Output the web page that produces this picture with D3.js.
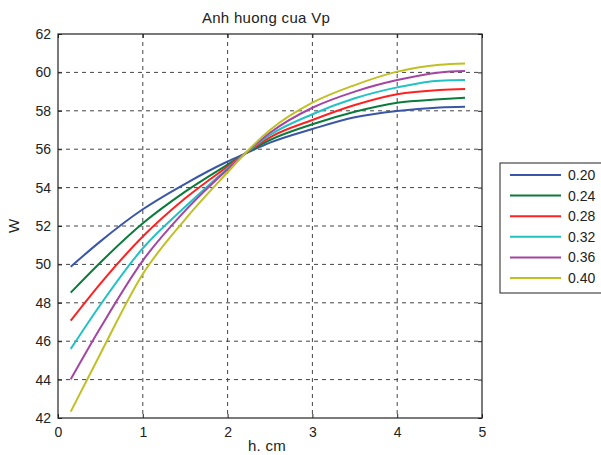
<!DOCTYPE html>
<html>
<head>
<meta charset="utf-8">
<script src="https://cdn.jsdelivr.net/npm/d3@7"></script>
<style>
  body { margin: 0; background: #fff; }
  text { font-family: "Liberation Sans", Arial, sans-serif; fill: #222; }
</style>
</head>
<body>
<div id="chart"></div>
<script>
// h values (cm) where the curves were read
const hVals = [0.15, 0.5, 1, 1.5, 2, 2.2, 2.5, 3, 3.5, 4, 4.5, 4.8];
// one series per Vp
const seriesNames = ["0.20", "0.24", "0.28", "0.32", "0.36", "0.40"];
const w020 = [49.88, 51.2, 52.87, 54.2, 55.36, 55.75, 56.34, 57.05, 57.66, 57.99, 58.17, 58.21];
const w024 = [48.53, 50.1, 52.14, 53.79, 55.2, 55.75, 56.48, 57.3, 57.95, 58.42, 58.6, 58.68];
const w028 = [47.07, 49.0, 51.45, 53.44, 55.1, 55.75, 56.62, 57.52, 58.3, 58.86, 59.08, 59.13];
const w032 = [45.6, 47.9, 50.84, 53.0, 55.0, 55.75, 56.74, 57.82, 58.65, 59.22, 59.57, 59.6];
const w036 = [44.02, 46.7, 50.2, 52.8, 54.95, 55.75, 56.86, 58.16, 59.0, 59.6, 60.0, 60.07];
const w040 = [42.33, 45.35, 49.5, 52.35, 54.8, 55.75, 57.0, 58.42, 59.34, 60.04, 60.4, 60.47];
const xTicks = [0, 1, 2, 3, 4, 5];
const yTicks = [42, 44, 46, 48, 50, 52, 54, 56, 58, 60, 62];
const colors = ["#3a56a6", "#0b7b3b", "#ff2121", "#22c2c4", "#a445a6", "#c0c025"];

const allSeries = [w020, w024, w028, w032, w036, w040];

const width = 601, height = 455;
const m = {t: 34, r: 119, b: 37, l: 58};
const w = width - m.l - m.r;
const h = height - m.t - m.b;

const svg = d3.select("#chart").append("svg")
    .attr("width", width)
    .attr("height", height);

const g = svg.append("g")
    .attr("transform", "translate(" + m.l + "," + m.t + ")");

const x = d3.scaleLinear().domain([0, 5]).range([0, w]);
const y = d3.scaleLinear().domain([42, 62]).range([h, 0]);

// grid lines
g.append("g").selectAll("line").data(xTicks.slice(1, -1)).enter()
    .append("line")
    .attr("x1", d => x(d)).attr("x2", d => x(d))
    .attr("y1", 0).attr("y2", h)
    .attr("stroke", "#444").attr("stroke-dasharray", "4,4");
g.append("g").selectAll("line").data(yTicks.slice(1, -1)).enter()
    .append("line")
    .attr("y1", d => y(d)).attr("y2", d => y(d))
    .attr("x1", 0).attr("x2", w)
    .attr("stroke", "#444").attr("stroke-dasharray", "4,4");

// axes, ticks inside like matlab
g.append("g").attr("transform", "translate(0," + h + ")")
    .call(d3.axisBottom(x).tickValues(xTicks).tickFormat(d3.format("d"))
        .tickSizeInner(-4).tickSizeOuter(0).tickPadding(9));
g.append("g")
    .call(d3.axisLeft(y).tickValues(yTicks).tickFormat(d3.format("d"))
        .tickSizeInner(-4).tickSizeOuter(0).tickPadding(7));
g.append("g").call(d3.axisTop(x).tickValues(xTicks).tickSizeInner(-4).tickSizeOuter(0).tickFormat(""));
g.append("g").attr("transform", "translate(" + w + ",0)")
    .call(d3.axisRight(y).tickValues(yTicks).tickSizeInner(-4).tickSizeOuter(0).tickFormat(""));
g.selectAll(".domain").remove();
g.selectAll(".tick line").attr("stroke", "#222");
g.selectAll(".tick text").style("font-size", "14px").attr("fill", "#222");

g.append("rect").attr("width", w).attr("height", h)
    .attr("fill", "none").attr("stroke", "#222").attr("stroke-width", 1.2);

// curves
const line = d3.line()
    .x((d, i) => x(hVals[i]))
    .y(d => y(d))
    .curve(d3.curveMonotoneX);

g.selectAll(".curve").data(allSeries).enter()
    .append("path")
    .attr("class", "curve")
    .attr("d", line)
    .attr("fill", "none")
    .attr("stroke", (d, i) => colors[i])
    .attr("stroke-width", 2);

// labels
svg.append("text").attr("x", m.l + w / 2 - 4).attr("y", 23)
    .attr("text-anchor", "middle").style("font-size", "15px")
    .style("letter-spacing", "0.3px")
    .text("Anh huong cua Vp");
svg.append("text").attr("x", m.l + w / 2 - 3).attr("y", 451)
    .attr("text-anchor", "middle").style("font-size", "15px")
    .style("letter-spacing", "0.3px")
    .text("h. cm");
svg.append("text").attr("transform", "translate(19," + (m.t + h / 2) + ") rotate(-90)")
    .attr("text-anchor", "middle").style("font-size", "15px")
    .text("W");

// legend
const lg = svg.append("g").attr("transform", "translate(500,163)");
lg.append("rect").attr("width", 103).attr("height", 130)
    .attr("fill", "#fff").attr("stroke", "#222");
const items = lg.selectAll(".item").data(seriesNames).enter()
    .append("g").attr("class", "item")
    .attr("transform", (d, i) => "translate(0," + (12 + i * 20.6) + ")");
items.append("line").attr("x1", 10).attr("x2", 61)
    .attr("stroke", (d, i) => colors[i]).attr("stroke-width", 2);
items.append("text").attr("x", 68).attr("y", 5)
    .style("font-size", "14px").text(d => d);
</script>
</body>
</html>
